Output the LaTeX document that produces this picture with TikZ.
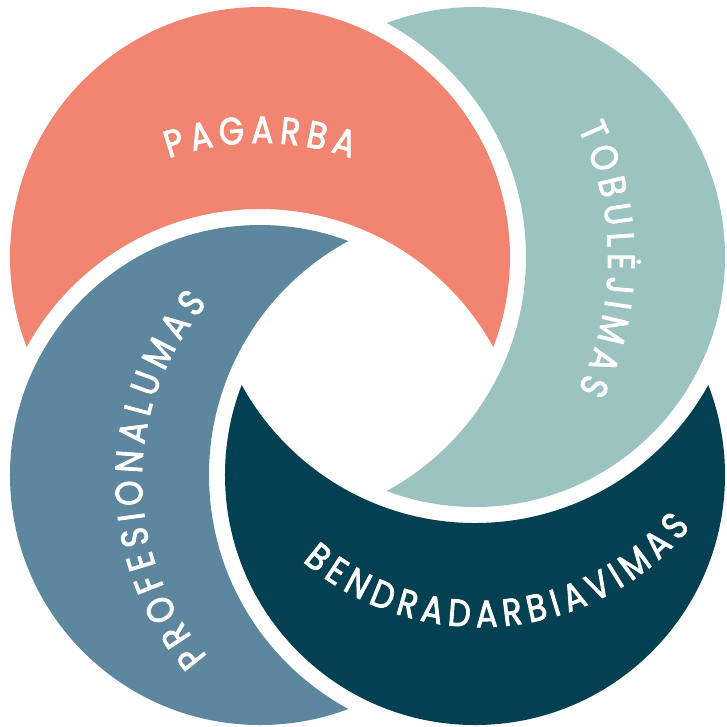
\documentclass[tikz,border=0pt]{standalone}
\usepackage{fontspec}
\newfontfamily\valuefont[Scale=1.08,FakeStretch=0.85,FakeBold=2.2,WordSpace=0.72]{Poppins}
\usetikzlibrary{decorations.text}
\usetikzlibrary{calc}
\definecolor{pagarbacol}{RGB}{242,132,114}
\definecolor{tobulcol}{RGB}{155,195,191}
\definecolor{bendrcol}{RGB}{2,64,82}
\definecolor{profcol}{RGB}{92,135,158}

\begin{document}
\begin{tikzpicture}
	\tikzstyle{cutout}=[even odd rule]
	\tikzstyle{arctext}=[decorate,decoration={text along path,text align=center,text color=white}]
	\def\R{2.5}
	\def\Rg{2.66}
	\useasboundingbox (-3.675,-3.60) rectangle (3.595,3.66);
	\coordinate (pagarba) at (-1.075,1.09);
	\coordinate (tobul) at (1.075,1.09);
	\coordinate (bendr) at (1.075,-1.09);
	\coordinate (prof) at (-1.075,-1.09);

	% each ring is its circle minus the widened circle before it
	\begin{scope}[cutout]
		\clip (prof) circle (\Rg) (-4,-4) rectangle (4,4);
		\fill[pagarbacol] (pagarba) circle (\R);
	\end{scope}
	\begin{scope}[cutout]
		\clip (pagarba) circle (\Rg) (-4,-4) rectangle (4,4);
		\fill[tobulcol] (tobul) circle (\R);
	\end{scope}
	\begin{scope}[cutout]
		\clip (tobul) circle (\Rg) (-4,-4) rectangle (4,4);
		\fill[bendrcol] (bendr) circle (\R);
	\end{scope}
	\begin{scope}[cutout]
		\clip (bendr) circle (\Rg) (-4,-4) rectangle (4,4);
		\fill[profcol] (prof) circle (\R);
	\end{scope}

	% labels
	\path[arctext,decoration={text={|\valuefont|P A G A R B A}}] ($(-1.075,-0.57)+(150:2.8)$) arc (150:30:2.8);
	\path[arctext,decoration={text={|\valuefont|T O B U L Ė J I M A S}}] ($(-0.595,1.07)+(60:3)$) arc (60:-60:3);
	\path[arctext,decoration={text={|\valuefont|B E N D R A D A R B I A V I M A S}}] ($(1.125,0.11)+(203:2.72)$) arc (203:347:2.72);
	\path[arctext,decoration={text={|\valuefont|P R O F E S I O N A L U M A S}}] ($(0.445,-1.14)+(240:2.7)$) arc (240:120:2.7);
\end{tikzpicture}
\end{document}
